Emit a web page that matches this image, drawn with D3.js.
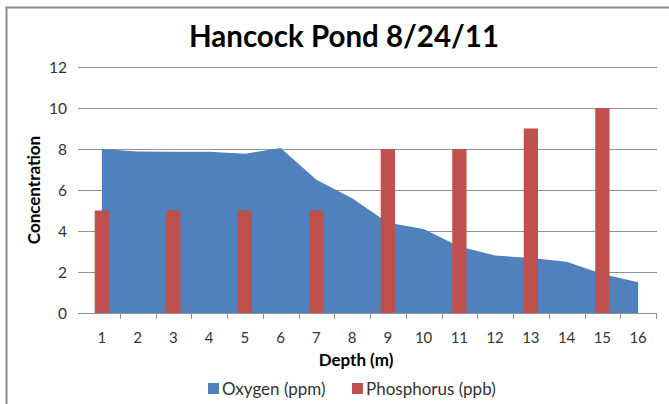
<!DOCTYPE html>
<html><head><meta charset="utf-8">
<script src="https://cdn.jsdelivr.net/npm/d3@7"></script>
<style>
html,body{margin:0;padding:0;background:#fff;}
svg{display:block;}
text{font-family:Lato,"Open Sans",sans-serif;}
</style></head>
<body>
<svg id="chart" width="669" height="404"></svg>
<script>
const depths = [1,2,3,4,5,6,7,8,9,10,11,12,13,14,15,16];
const oxygen = [8.0,7.88,7.86,7.86,7.77,8.05,6.5,5.6,4.4,4.1,3.25,2.8,2.68,2.5,1.9,1.5];
const phosphorus = [5,null,5,null,5,null,5,null,8,null,8,null,9,null,10,null];
const yTicks = [0,2,4,6,8,10,12];
const title = "Hancock Pond 8/24/11";
const xTitle = "Depth (m)";
const yTitle = "Concentration";
const seriesNames = ["Oxygen (ppm)","Phosphorus (ppb)"];
const colors = ["#4F81BD","#C0504D"];

(function(){
const svg = d3.select("#chart");
const pLeft = 84, pRight = 656, pTop = 67, pBottom = 313;

const x = d3.scaleBand().domain(depths).range([pLeft,pRight]).padding(0);
const y = d3.scaleLinear().domain([0,12]).range([pBottom,pTop]);

// border
svg.append("rect").attr("x",6.5).attr("y",7.5).attr("width",700).attr("height",500)
  .attr("fill","none").attr("stroke","#8a8a8a").attr("stroke-width",2);

// gridlines
svg.append("g").selectAll("line").data(yTicks).join("line")
  .attr("x1",78).attr("x2",657)
  .attr("y1",d=>Math.round(y(d))+0.5).attr("y2",d=>Math.round(y(d))+0.5)
  .attr("stroke","#929292").attr("stroke-width",1.2);

// y tick labels
svg.append("g").selectAll("text").data(yTicks).join("text")
  .attr("x",67).attr("y",d=>y(d)).attr("dy","0.36em")
  .attr("text-anchor","end").attr("font-size",15.5).attr("fill","#333")
  .text(d=>d);

// oxygen area
const area = d3.area()
  .x((d,i)=>x(depths[i])+x.bandwidth()/2)
  .y0(y(0)).y1(d=>y(d));
svg.append("path").datum(oxygen).attr("d",area).attr("fill",colors[0]);

// phosphorus bars
const bw = x.bandwidth()*0.4;
svg.append("g").selectAll("rect")
  .data(depths.map((d,i)=>({d,v:phosphorus[i]})).filter(o=>o.v!=null))
  .join("rect")
  .attr("x",o=>x(o.d)+x.bandwidth()/2-bw/2)
  .attr("width",bw)
  .attr("y",o=>y(o.v)).attr("height",o=>y(0)-y(o.v))
  .attr("fill",colors[1]);

// x axis
const xAxis = svg.append("g");
xAxis.append("line").attr("x1",78).attr("x2",657).attr("y1",pBottom+0.5).attr("y2",pBottom+0.5)
  .attr("stroke","#929292").attr("stroke-width",1.2);
const tickPos = depths.map(d=>x(d)).concat([pRight]).slice(1);
xAxis.selectAll("line.t").data(tickPos).join("line").attr("class","t")
  .attr("x1",d=>Math.round(d)+0.5).attr("x2",d=>Math.round(d)+0.5)
  .attr("y1",pBottom).attr("y2",pBottom+6).attr("stroke","#929292");
xAxis.selectAll("text").data(depths).join("text")
  .attr("x",d=>x(d)+x.bandwidth()/2).attr("y",343)
  .attr("text-anchor","middle").attr("font-size",15).attr("fill","#333")
  .text(d=>d);

// titles
svg.append("text").attr("x",344).attr("y",47).attr("text-anchor","middle")
  .attr("font-size",29.5).attr("font-weight","bold").attr("fill","#000").text(title);
svg.append("text").attr("x",356).attr("y",366).attr("text-anchor","middle")
  .attr("font-size",17).attr("font-weight","bold").attr("fill","#000").text(xTitle);
svg.append("text").attr("transform","translate(40,190) rotate(-90)").attr("text-anchor","middle")
  .attr("font-size",17).attr("font-weight","bold").attr("fill","#000").text(yTitle);

// legend
const legend = [{name:seriesNames[0],c:colors[0],x:208},{name:seriesNames[1],c:colors[1],x:352}];
const lg = svg.append("g").selectAll("g").data(legend).join("g");
lg.append("rect").attr("x",d=>d.x).attr("y",383).attr("width",11).attr("height",11).attr("fill",d=>d.c);
lg.append("text").attr("x",d=>d.x+14).attr("y",389).attr("dy","0.36em")
  .attr("font-size",17).attr("fill","#333").text(d=>d.name);
})();
</script>
</body></html>
